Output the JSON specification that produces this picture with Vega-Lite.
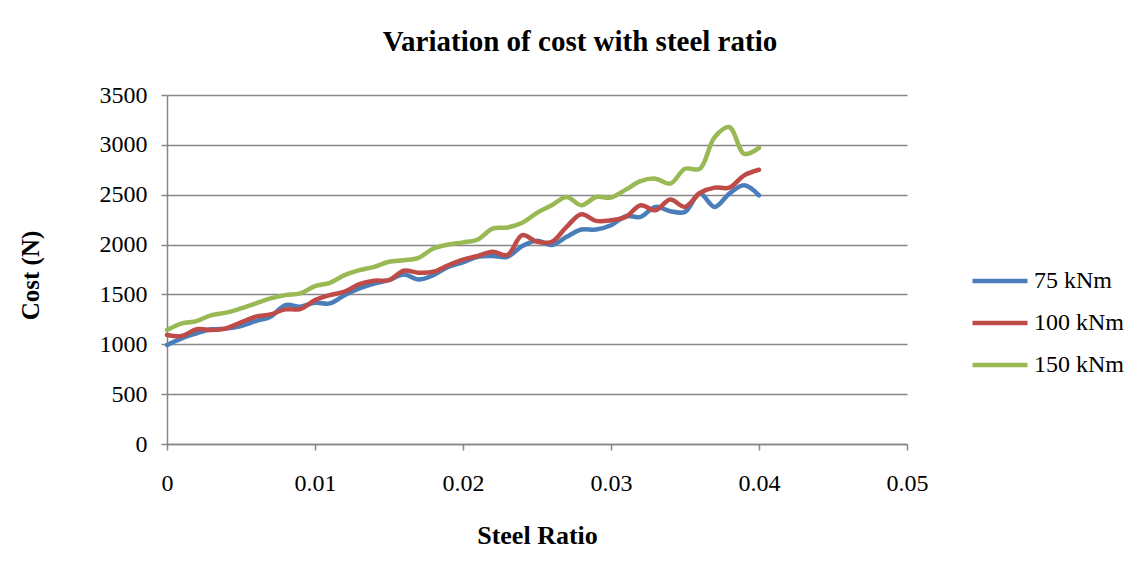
{
  "$schema": "https://vega.github.io/schema/vega-lite/v6.json",
  "width": 740,
  "height": 349,
  "autosize": {"type": "none"},
  "padding": {"left": 167, "top": 95, "right": 237, "bottom": 134},
  "background": "white",
  "config": {"view": {"stroke": null}, "font": "Liberation Serif"},
  "title": {"text": "Variation of cost with steel ratio", "font": "Liberation Serif", "fontSize": 29, "fontWeight": "bold", "color": "black", "anchor": "middle", "dx": 43, "offset": 26},
  "data": {"values": [
    {"x":0.000,"s":"75 kNm","c":993},{"x":0.001,"s":"75 kNm","c":1060},{"x":0.002,"s":"75 kNm","c":1110},{"x":0.003,"s":"75 kNm","c":1150},{"x":0.004,"s":"75 kNm","c":1157},{"x":0.005,"s":"75 kNm","c":1183},{"x":0.006,"s":"75 kNm","c":1233},{"x":0.007,"s":"75 kNm","c":1277},{"x":0.008,"s":"75 kNm","c":1393},{"x":0.009,"s":"75 kNm","c":1377},{"x":0.010,"s":"75 kNm","c":1417},
    {"x":0.011,"s":"75 kNm","c":1410},{"x":0.012,"s":"75 kNm","c":1493},{"x":0.013,"s":"75 kNm","c":1560},{"x":0.014,"s":"75 kNm","c":1610},{"x":0.015,"s":"75 kNm","c":1643},{"x":0.016,"s":"75 kNm","c":1700},{"x":0.017,"s":"75 kNm","c":1650},{"x":0.018,"s":"75 kNm","c":1693},{"x":0.019,"s":"75 kNm","c":1777},{"x":0.020,"s":"75 kNm","c":1822},
    {"x":0.021,"s":"75 kNm","c":1878},{"x":0.022,"s":"75 kNm","c":1885},{"x":0.023,"s":"75 kNm","c":1878},{"x":0.024,"s":"75 kNm","c":1985},{"x":0.025,"s":"75 kNm","c":2038},{"x":0.026,"s":"75 kNm","c":1995},{"x":0.027,"s":"75 kNm","c":2078},{"x":0.028,"s":"75 kNm","c":2151},{"x":0.029,"s":"75 kNm","c":2151},{"x":0.030,"s":"75 kNm","c":2194},
    {"x":0.031,"s":"75 kNm","c":2284},{"x":0.032,"s":"75 kNm","c":2278},{"x":0.033,"s":"75 kNm","c":2378},{"x":0.034,"s":"75 kNm","c":2334},{"x":0.035,"s":"75 kNm","c":2328},{"x":0.036,"s":"75 kNm","c":2511},{"x":0.037,"s":"75 kNm","c":2378},{"x":0.038,"s":"75 kNm","c":2511},{"x":0.039,"s":"75 kNm","c":2594},{"x":0.040,"s":"75 kNm","c":2494},
    {"x":0.000,"s":"100 kNm","c":1093},{"x":0.001,"s":"100 kNm","c":1083},{"x":0.002,"s":"100 kNm","c":1150},{"x":0.003,"s":"100 kNm","c":1143},{"x":0.004,"s":"100 kNm","c":1160},{"x":0.005,"s":"100 kNm","c":1220},{"x":0.006,"s":"100 kNm","c":1277},{"x":0.007,"s":"100 kNm","c":1300},{"x":0.008,"s":"100 kNm","c":1350},{"x":0.009,"s":"100 kNm","c":1353},{"x":0.010,"s":"100 kNm","c":1443},
    {"x":0.011,"s":"100 kNm","c":1493},{"x":0.012,"s":"100 kNm","c":1527},{"x":0.013,"s":"100 kNm","c":1603},{"x":0.014,"s":"100 kNm","c":1637},{"x":0.015,"s":"100 kNm","c":1643},{"x":0.016,"s":"100 kNm","c":1737},{"x":0.017,"s":"100 kNm","c":1717},{"x":0.018,"s":"100 kNm","c":1727},{"x":0.019,"s":"100 kNm","c":1793},{"x":0.020,"s":"100 kNm","c":1850},
    {"x":0.021,"s":"100 kNm","c":1885},{"x":0.022,"s":"100 kNm","c":1928},{"x":0.023,"s":"100 kNm","c":1895},{"x":0.024,"s":"100 kNm","c":2094},{"x":0.025,"s":"100 kNm","c":2028},{"x":0.026,"s":"100 kNm","c":2028},{"x":0.027,"s":"100 kNm","c":2178},{"x":0.028,"s":"100 kNm","c":2304},{"x":0.029,"s":"100 kNm","c":2238},{"x":0.030,"s":"100 kNm","c":2244},
    {"x":0.031,"s":"100 kNm","c":2278},{"x":0.032,"s":"100 kNm","c":2394},{"x":0.033,"s":"100 kNm","c":2344},{"x":0.034,"s":"100 kNm","c":2451},{"x":0.035,"s":"100 kNm","c":2378},{"x":0.036,"s":"100 kNm","c":2517},{"x":0.037,"s":"100 kNm","c":2571},{"x":0.038,"s":"100 kNm","c":2571},{"x":0.039,"s":"100 kNm","c":2694},{"x":0.040,"s":"100 kNm","c":2750},
    {"x":0.000,"s":"150 kNm","c":1143},{"x":0.001,"s":"150 kNm","c":1210},{"x":0.002,"s":"150 kNm","c":1233},{"x":0.003,"s":"150 kNm","c":1293},{"x":0.004,"s":"150 kNm","c":1317},{"x":0.005,"s":"150 kNm","c":1360},{"x":0.006,"s":"150 kNm","c":1410},{"x":0.007,"s":"150 kNm","c":1460},{"x":0.008,"s":"150 kNm","c":1493},{"x":0.009,"s":"150 kNm","c":1510},{"x":0.010,"s":"150 kNm","c":1583},
    {"x":0.011,"s":"150 kNm","c":1617},{"x":0.012,"s":"150 kNm","c":1693},{"x":0.013,"s":"150 kNm","c":1743},{"x":0.014,"s":"150 kNm","c":1777},{"x":0.015,"s":"150 kNm","c":1827},{"x":0.016,"s":"150 kNm","c":1843},{"x":0.017,"s":"150 kNm","c":1867},{"x":0.018,"s":"150 kNm","c":1960},{"x":0.019,"s":"150 kNm","c":2000},{"x":0.020,"s":"150 kNm","c":2022},
    {"x":0.021,"s":"150 kNm","c":2051},{"x":0.022,"s":"150 kNm","c":2161},{"x":0.023,"s":"150 kNm","c":2171},{"x":0.024,"s":"150 kNm","c":2218},{"x":0.025,"s":"150 kNm","c":2318},{"x":0.026,"s":"150 kNm","c":2394},{"x":0.027,"s":"150 kNm","c":2477},{"x":0.028,"s":"150 kNm","c":2394},{"x":0.029,"s":"150 kNm","c":2477},{"x":0.030,"s":"150 kNm","c":2471},
    {"x":0.031,"s":"150 kNm","c":2551},{"x":0.032,"s":"150 kNm","c":2637},{"x":0.033,"s":"150 kNm","c":2661},{"x":0.034,"s":"150 kNm","c":2611},{"x":0.035,"s":"150 kNm","c":2760},{"x":0.036,"s":"150 kNm","c":2760},{"x":0.037,"s":"150 kNm","c":3077},{"x":0.038,"s":"150 kNm","c":3177},{"x":0.039,"s":"150 kNm","c":2910},{"x":0.040,"s":"150 kNm","c":2970}
  ]},
  "mark": {"type": "line", "interpolate": "catmull-rom", "strokeWidth": 4.5, "strokeCap": "round", "strokeJoin": "round"},
  "encoding": {
    "x": {"field": "x", "type": "quantitative", "scale": {"domain": [0, 0.05], "nice": false},
      "axis": {"values": [0, 0.01, 0.02, 0.03, 0.04, 0.05], "format": "~g", "grid": false, "title": "Steel Ratio",
        "titleFont": "Liberation Serif", "titleFontSize": 26, "titleFontWeight": "bold", "titleColor": "black", "titleBaseline": "middle", "titleY": 91,
        "labelFont": "Liberation Serif", "labelFontSize": 24, "labelColor": "black", "labelPadding": 21, "labelFlush": false,
        "domainColor": "#868686", "domainWidth": 1.5, "tickColor": "#868686", "tickSize": 6, "tickWidth": 1.5}},
    "y": {"field": "c", "type": "quantitative", "scale": {"domain": [0, 3500], "nice": false},
      "axis": {"values": [0, 500, 1000, 1500, 2000, 2500, 3000, 3500], "format": "d", "title": "Cost (N)",
        "titleFont": "Liberation Serif", "titleFontSize": 25, "titleFontWeight": "bold", "titleColor": "black", "titleX": -137, "titleY": 180, "titleAlign": "center", "titleBaseline": "middle", "titleAngle": -90,
        "labelFont": "Liberation Serif", "labelFontSize": 24, "labelColor": "black", "labelPadding": 14,
        "gridColor": "#868686", "gridWidth": 1.5, "gridOpacity": 1,
        "domainColor": "#868686", "domainWidth": 1.5, "tickColor": "#868686", "tickSize": 6, "tickWidth": 1.5}},
    "color": {"field": "s", "type": "nominal", "sort": ["75 kNm", "100 kNm", "150 kNm"],
      "scale": {"domain": ["75 kNm", "100 kNm", "150 kNm"], "range": ["#4A7EBB", "#BE4B48", "#98B954"]},
      "legend": {"title": null, "orient": "none", "legendX": 803, "legendY": 156, "symbolType": "stroke", "symbolSize": 3025, "symbolStrokeWidth": 4.5,
        "labelFont": "Liberation Serif", "labelFontSize": 24, "labelColor": "black", "labelOffset": 4, "rowPadding": -10}}
  }
}
